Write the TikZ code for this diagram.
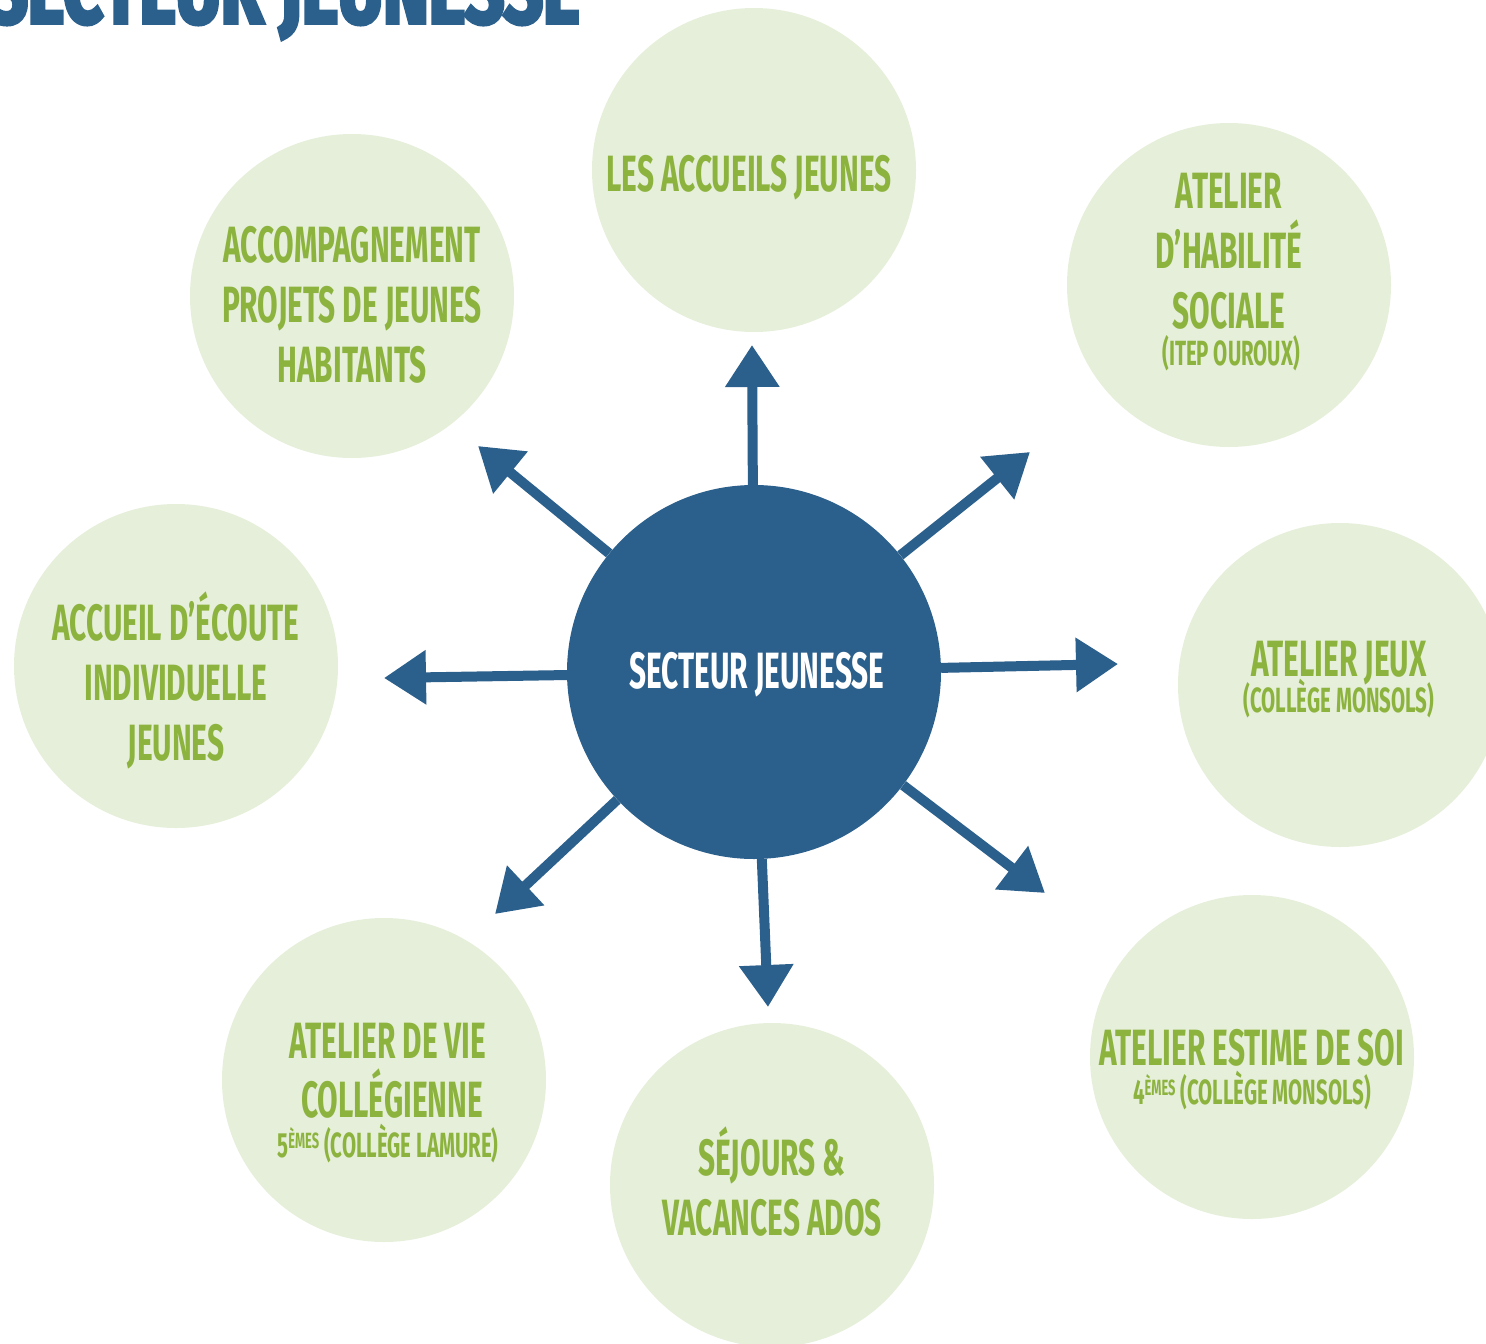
\documentclass[tikz,border=0pt]{standalone}
\usepackage{fontspec}
\setmainfont{Fira Sans}
\newfontfamily\condfont[FakeStretch=0.585]{Fira Sans}
\newfontfamily\titlefont[FakeStretch=0.72,FakeBold=4]{Fira Sans}
\usetikzlibrary{arrows.meta}
\definecolor{dblue}{HTML}{2C608C}
\definecolor{lgreen}{HTML}{E6EFDA}
\definecolor{tgreen}{HTML}{8DB33F}
\tikzset{
  bubble/.style={circle, fill=lgreen, minimum size=324pt, inner sep=0pt},
  hub/.style={circle, fill=dblue, minimum size=374pt, inner sep=0pt},
  big/.style={anchor=base, text=tgreen, font=\condfont\bfseries\fontsize{51}{51}\selectfont, inner sep=0pt},
  small/.style={anchor=base, text=tgreen, font=\condfont\bfseries\fontsize{35}{35}\selectfont, inner sep=0pt},
  spoke/.style={draw=dblue, line width=10pt, -{Triangle[width=52pt,length=42pt]}}
}
\newcommand{\ems}{\raisebox{9pt}{\fontsize{22}{22}\selectfont ÈMES}}
\begin{document}
\begin{tikzpicture}[x=1pt,y=-1pt]
\useasboundingbox (0,0) rectangle (1486,1344);
\clip (0,0) rectangle (1486,1344);
\node[anchor=base west, text=dblue, font=\titlefont\bfseries\fontsize{96}{96}\selectfont, inner sep=0pt] (title) at (-12,23) {SECTEUR JEUNESSE};

\node[bubble] (n) at (754,170) {};
\node[bubble] (ne) at (1229,285) {};
\node[bubble] (e) at (1340,685) {};
\node[bubble] (se) at (1252,1057) {};
\node[bubble] (s) at (772,1185) {};
\node[bubble] (sw) at (384,1080) {};
\node[bubble] (w) at (176,666) {};
\node[bubble] (nw) at (352,296) {};
\node[hub] (c) at (754,672) {};

\coordinate (tn) at (752,345);
\coordinate (tne) at (1030,452);
\coordinate (te) at (1118,664);
\coordinate (tse) at (1045,893);
\coordinate (ts) at (768,1007);
\coordinate (tsw) at (495,914);
\coordinate (tw) at (384,678);
\coordinate (tnw) at (478,446);

\draw[spoke] (c) -- (tn);
\draw[spoke] (c) -- (tne);
\draw[spoke] (c) -- (te);
\draw[spoke] (c) -- (tse);
\draw[spoke] (c) -- (ts);
\draw[spoke] (c) -- (tsw);
\draw[spoke] (c) -- (tw);
\draw[spoke] (c) -- (tnw);

\node[big, text=white] (ct) at (757,688) {SECTEUR JEUNESSE};

\node[big] (n1) at (749,191) {LES ACCUEILS JEUNES};

\node[big] (ne1) at (1229,208) {ATELIER};
\node[big] (ne2) at (1229,268) {D’HABILITÉ};
\node[big] (ne3) at (1229,328) {SOCIALE};
\node[small] (ne4) at (1231,365) {(ITEP OUROUX)};

\node[big] (e1) at (1339,676) {ATELIER JEUX};
\node[small] (e2) at (1339,712) {(COLLÈGE MONSOLS)};

\node[big] (se1) at (1252,1065) {ATELIER ESTIME DE SOI};
\node[small] (se2) at (1252,1104) {4\ems{} (COLLÈGE MONSOLS)};

\node[big] (s1) at (772,1175) {SÉJOURS \&};
\node[big] (s2) at (772,1235) {VACANCES ADOS};

\node[big] (sw1) at (388,1058) {ATELIER DE VIE};
\node[big] (sw2) at (392,1117) {COLLÉGIENNE};
\node[small] (sw3) at (388,1157) {5\ems{} (COLLÈGE LAMURE)};

\node[big] (w1) at (176,640) {ACCUEIL D’ÉCOUTE};
\node[big] (w2) at (176,700) {INDIVIDUELLE};
\node[big] (w3) at (176,760) {JEUNES};

\node[big] (nw1) at (352,262) {ACCOMPAGNEMENT};
\node[big] (nw2) at (352,322) {PROJETS DE JEUNES};
\node[big] (nw3) at (352,382) {HABITANTS};
\end{tikzpicture}
\end{document}
